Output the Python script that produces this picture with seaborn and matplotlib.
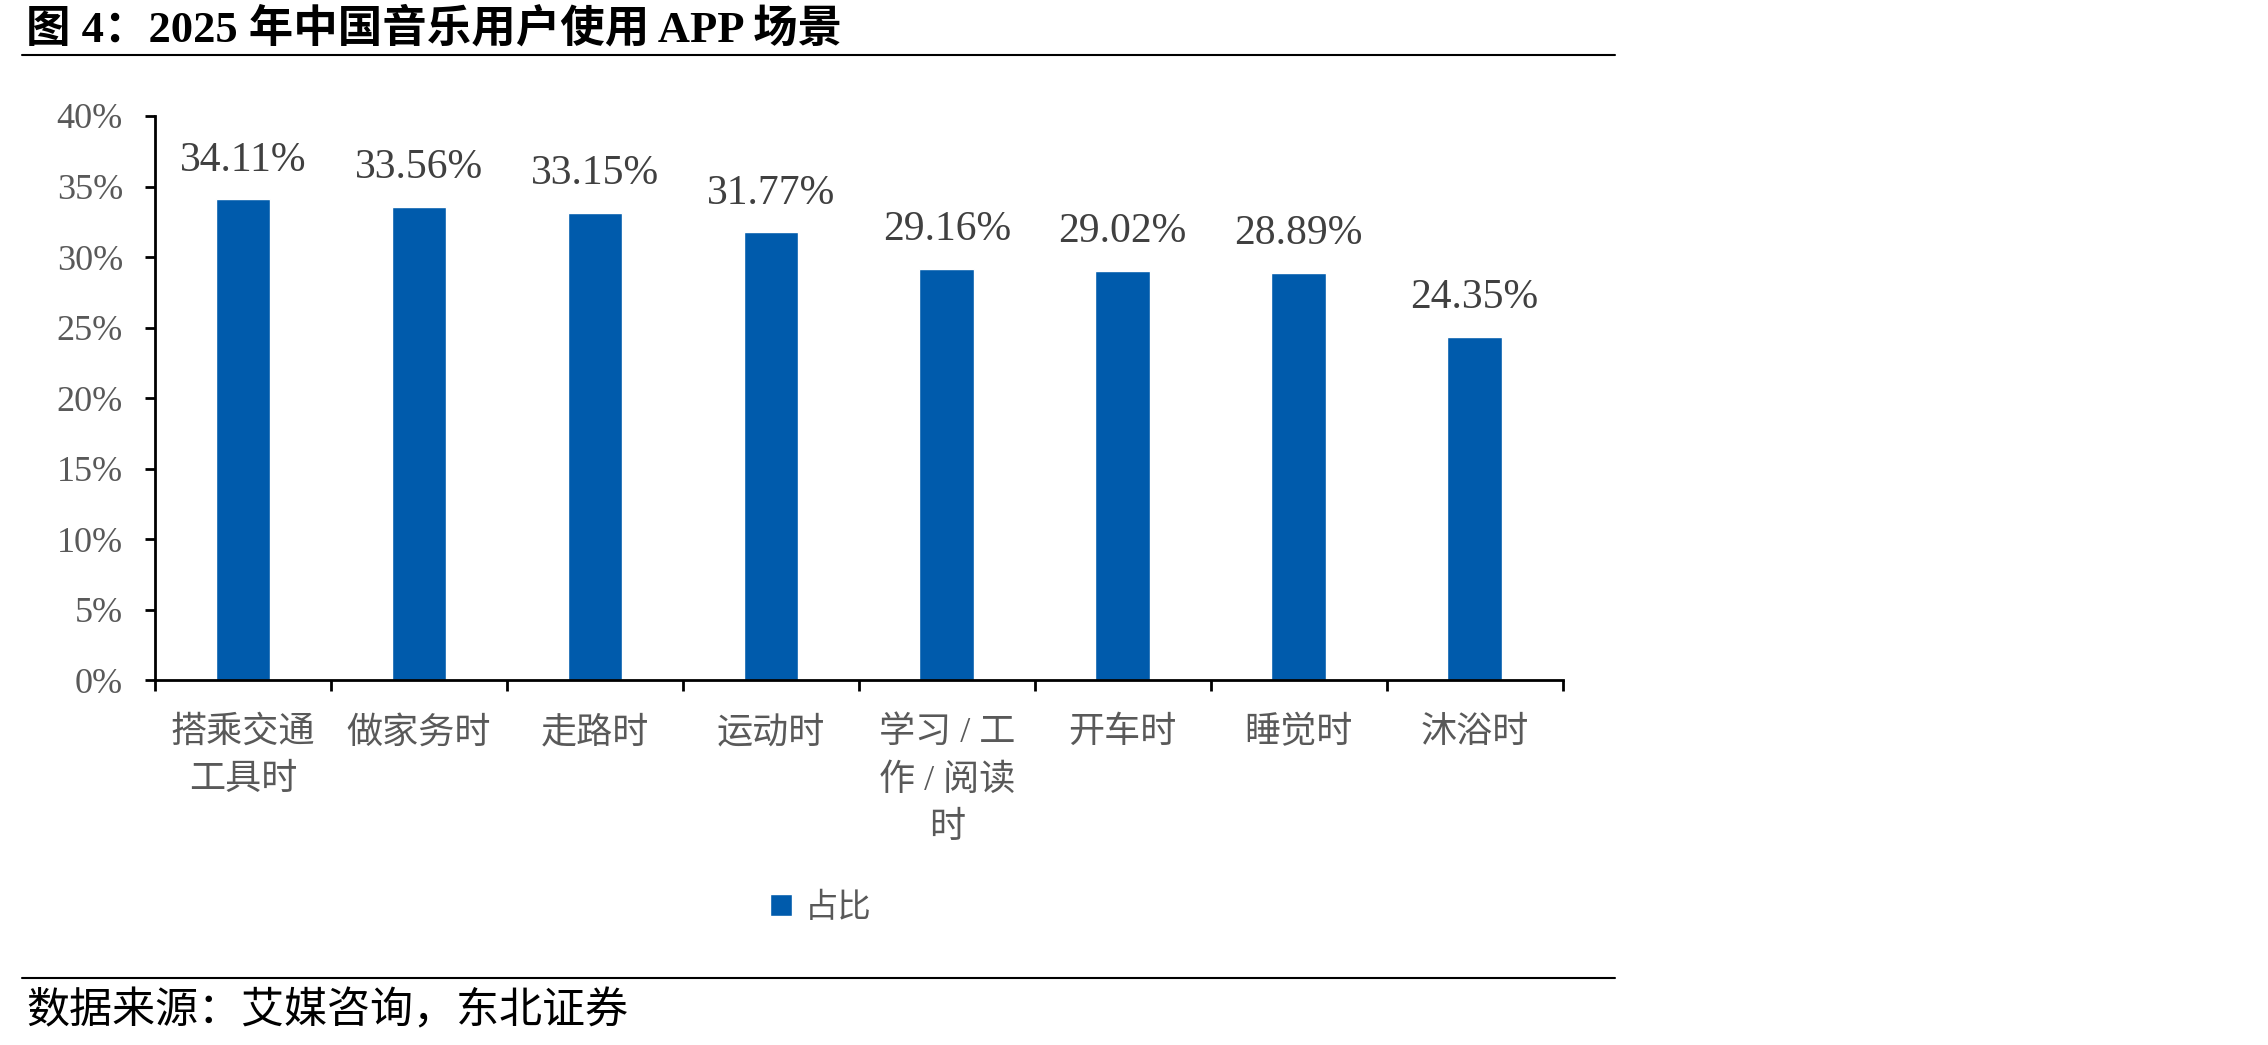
import numpy as np
import pandas as pd
import seaborn as sns
import matplotlib.pyplot as plt
from matplotlib.lines import Line2D

# data
scenes = ["搭乘交通\n工具时", "做家务时", "走路时", "运动时",
          "学习 / 工\n作 / 阅读\n时", "开车时", "睡觉时", "沐浴时"]
share = [34.11, 33.56, 33.15, 31.77, 29.16, 29.02, 28.89, 24.35]
series_name = "占比"
y_ticks = [0, 5, 10, 15, 20, 25, 30, 35, 40]

title = "图 4：2025 年中国音乐用户使用 APP 场景"
source = "数据来源：艾媒咨询，东北证券"

bar_color = "#005BAC"
grey = "#595959"

sns.set_theme(style="white")
plt.rcParams['font.family'] = ['Liberation Serif', 'Noto Sans CJK SC', 'DejaVu Sans']

df = pd.DataFrame({"scene": scenes, "share": share, "series": series_name})

fig = plt.figure(figsize=(22.68, 10.45), dpi=100)
ax = fig.add_axes([0.0683, 0.349, 0.6207, 0.540])

sns.barplot(data=df, x="scene", y="share", hue="series", palette=[bar_color],
            width=0.31, ax=ax, saturation=1)

# value labels on top of bars
for cont in ax.containers:
    ax.bar_label(cont, labels=[f"{v:.2f}%" for v in share], padding=14,
                 fontsize=30, color="#404040")

ax.set_ylim(0, 40)
ax.set_xlim(-0.5, len(scenes) - 0.5)
ax.set_yticks(y_ticks)
ax.set_yticklabels([f"{t}%" for t in y_ticks], fontsize=26, color=grey)
ax.set_xticks(range(len(scenes)))
ax.set_xticklabels(scenes, fontsize=26, color=grey, linespacing=1.55)
ax.set_xticks(np.arange(-0.5, len(scenes)), minor=True)
ax.set_xlabel("")
ax.set_ylabel("")

ax.tick_params(axis="x", which="major", length=0, pad=26)
ax.tick_params(axis="x", which="minor", length=8, width=2, direction="out", color="black", bottom=True)
ax.tick_params(axis="y", length=7, width=2, direction="out", color="black", pad=16, left=True)

for s in ["top", "right"]:
    ax.spines[s].set_visible(False)
for s in ["left", "bottom"]:
    ax.spines[s].set_color("black")
    ax.spines[s].set_linewidth(2)

ax.legend_.remove()
handles, labels = ax.get_legend_handles_labels()
leg = fig.legend(handles, labels, loc="center", bbox_to_anchor=(0.362, 0.131),
                 frameon=False, fontsize=24, handlelength=0.65, handleheight=0.65,
                 handletextpad=0.4)
for t in leg.get_texts():
    t.set_color(grey)

# title, rules and source
fig.text(0.0115, 0.972, title, fontsize=32, fontweight="bold", va="center", ha="left", color="black")
fig.add_artist(Line2D([0.0097, 0.712], [0.947, 0.947], color="black", linewidth=1.5))
fig.add_artist(Line2D([0.0097, 0.712], [0.064, 0.064], color="black", linewidth=1.5))
fig.text(0.0115, 0.032, source, fontsize=31, va="center", ha="left", color="black")

fig.savefig("out.png", dpi=100)
